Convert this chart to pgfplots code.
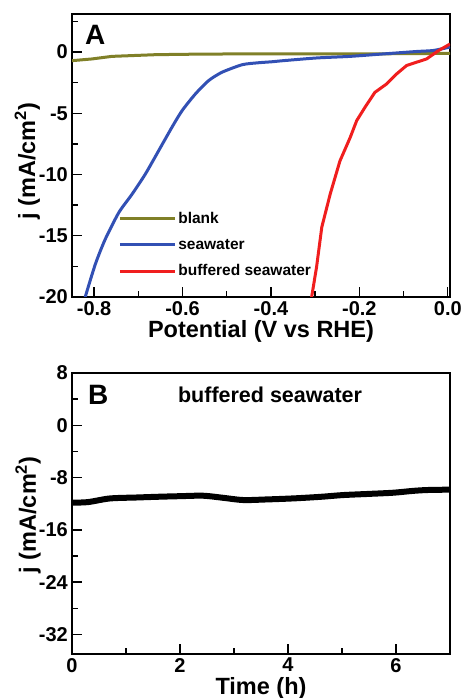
\documentclass[border=0pt]{standalone}
\usepackage{pgfplots}
\pgfplotsset{compat=1.18}
\usepackage{fontspec}
\setmainfont{Liberation Sans}
\definecolor{blankc}{RGB}{128,128,40}
\definecolor{seac}{RGB}{50,80,180}
\definecolor{bufc}{RGB}{240,30,30}
\pgfplotsset{
  mystyle/.style={
    scale only axis,
    width=378pt,
    axis line style={line width=1.6pt},
    every tick/.style={line width=1.4pt, black},
    major tick length=10pt, minor tick length=6pt,
    tick align=inside, xtick pos=bottom, ytick pos=left,
    tick label style={font=\bfseries\fontsize{20}{20}\selectfont},
    xticklabel style={inner sep=0pt, yshift=-4pt},
    yticklabel style={inner sep=0pt, xshift=-4pt},
    label style={font=\bfseries\fontsize{23.5}{23.5}\selectfont},
    xlabel style={at={(axis description cs:0.5,0)}, anchor=north, inner sep=0pt, yshift=-23pt},
    clip=true,
  }
}
\begin{document}
\begin{tikzpicture}[x=1pt,y=1pt]
\useasboundingbox (0,0) rectangle (465,698);
\begin{axis}[mystyle,
  at={(72pt,401pt)}, anchor=south west, height=283pt,
  xmin=-0.85, xmax=0.005, ymin=-20, ymax=3.1,
  xtick={-0.8,-0.6,-0.4,-0.2,0}, xticklabels={-0.8,-0.6,-0.4,-0.2,0.0},
  minor xtick={-0.7,-0.5,-0.3,-0.1},
  ytick={0,-5,-10,-15,-20}, yticklabels={0,-5,-10,-15,-20},
  minor ytick={2.5,-2.5,-7.5,-12.5,-17.5},
  xlabel={Potential (V vs RHE)},
  ylabel={j (mA/cm\textsuperscript{2})},
  ylabel style={at={(axis description cs:-0.118,0.48)}, anchor=center},
  legend style={at={(axis description cs:0.122,0.184)}, anchor=west, draw=none, fill=none,
    inner sep=0pt, row sep=10pt, font=\bfseries\fontsize{15.5}{15.5}\selectfont},
  legend cell align=left,
  legend image code/.code={\draw[#1] (0pt,0pt) -- (55pt,0pt);},
]
\addplot[blankc, line width=3pt] coordinates {
(-0.85,-0.71) (-0.805,-0.57) (-0.76,-0.36) (-0.66,-0.22) (-0.55,-0.17) (-0.45,-0.16)
(-0.3,-0.16) (-0.15,-0.15) (-0.05,-0.13) (0.005,-0.11)};
\addlegendentry{blank}
\addplot[seac, line width=3pt, smooth, tension=0.4] coordinates {
(-0.822,-20.5) (-0.820,-20.0) (-0.797,-17.3) (-0.775,-15.3) (-0.744,-13.1) (-0.714,-11.6)
(-0.684,-9.96) (-0.654,-8.06) (-0.624,-6.15) (-0.601,-4.79) (-0.571,-3.43) (-0.541,-2.34)
(-0.511,-1.66) (-0.465,-1.04) (-0.428,-0.88) (-0.398,-0.8) (-0.372,-0.71) (-0.297,-0.49)
(-0.221,-0.36) (-0.146,-0.16) (-0.070,0.04) (-0.033,0.12) (0.005,0.4)};
\addlegendentry{seawater}
\addplot[bufc, line width=3pt] coordinates {
(-0.309,-20.5) (-0.308,-20.0) (-0.297,-17.6) (-0.285,-14.3) (-0.266,-11.6) (-0.244,-8.9)
(-0.221,-7.0) (-0.206,-5.6) (-0.187,-4.5) (-0.165,-3.3) (-0.138,-2.6) (-0.116,-1.8)
(-0.093,-1.1) (-0.048,-0.57) (-0.021,0.11) (0.005,0.65)};
\addlegendentry{buffered seawater}
\node[anchor=north west, inner sep=0pt, font=\bfseries\fontsize{28}{28}\selectfont] at (axis description cs:0.034,0.961) {A};
\end{axis}
\begin{axis}[mystyle,
  at={(72pt,44pt)}, anchor=south west, height=281pt,
  xmin=0, xmax=7, ymin=-35, ymax=8,
  xtick={0,2,4,6}, xticklabels={0,2,4,6}, minor xtick={1,3,5},
  ytick={8,0,-8,-16,-24,-32}, yticklabels={8,0,-8,-16,-24,-32},
  minor ytick={4,-4,-12,-20,-28},
  xlabel={Time (h)},
  xlabel style={yshift=0pt},
  ylabel={j (mA/cm\textsuperscript{2})},
  ylabel style={at={(axis description cs:-0.116,0.495)}, anchor=center},
]
\addplot[black, line width=6pt, smooth, tension=0.5] coordinates {
(0,-11.85) (0.3,-11.75) (0.7,-11.2) (1.2,-11.05) (1.63,-10.93) (2.0,-10.85) (2.43,-10.78)
(2.8,-11.1) (3.17,-11.44) (3.6,-11.35) (4.1,-11.19) (4.6,-10.95) (5.02,-10.68)
(5.5,-10.5) (5.95,-10.32) (6.3,-10.05) (6.57,-9.91) (7,-9.85)};
\node[anchor=north west, inner sep=0pt, font=\bfseries\fontsize{28}{28}\selectfont] at (axis description cs:0.042,0.957) {B};
\node[anchor=center, inner sep=0pt, font=\bfseries\fontsize{21.5}{21.5}\selectfont] at (axis description cs:0.524,0.922) {buffered seawater};
\end{axis}
\end{tikzpicture}
\end{document}
